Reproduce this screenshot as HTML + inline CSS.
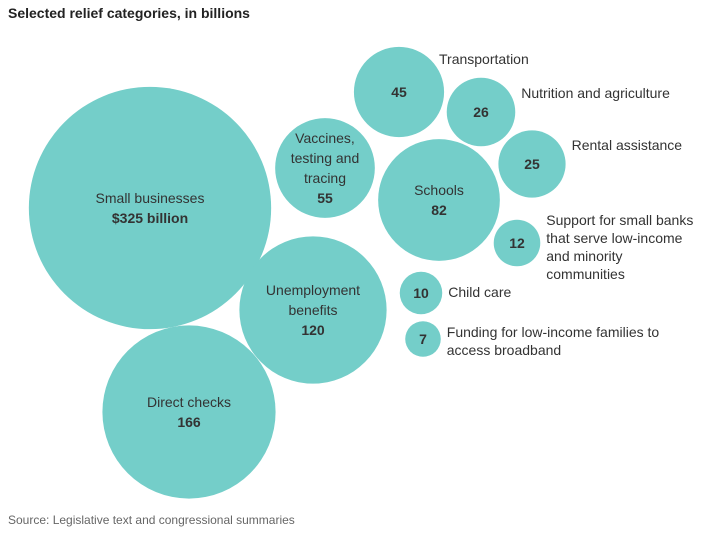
<!DOCTYPE html>
<html><head><meta charset="utf-8">
<style>
html,body{margin:0;padding:0;background:#fff;}
body{width:704px;height:530px;overflow:hidden;font-family:"Liberation Sans",sans-serif;}
svg text{font-family:"Liberation Sans",sans-serif;}
</style></head>
<body>
<svg id="chart" width="704" height="530">
<text x="8" y="18" font-size="14" font-weight="bold" fill="#222">Selected relief categories, in billions</text>
<text x="8" y="524" font-size="12" fill="#666">Source: Legislative text and congressional summaries</text>
<g id="bubbles"></g>
</svg>
<script>
const categories = ["Small businesses","Direct checks","Unemployment benefits","Schools","Vaccines, testing and tracing","Transportation","Nutrition and agriculture","Rental assistance","Support for small banks","Child care","Broadband funding"];
const values = [325,166,120,82,55,45,26,25,12,10,7];
const valueLabels = ["$325 billion","166","120","82","55","45","26","25","12","10","7"];
const insideLabels = [["Small businesses"],["Direct checks"],["Unemployment","benefits"],["Schools"],["Vaccines,","testing and","tracing"],[],[],[],[],[],[]];
const outsideLabels = [[],[],[],[],[],["Transportation"],["Nutrition and agriculture"],["Rental assistance"],["Support for small banks","that serve low-income","and minority","communities"],["Child care"],["Funding for low-income families to","access broadband"]];
// layout (centers of bubbles)
const layout = [[150,208],[189,412],[313,310],[439,200],[325,168],[399,92],[481,112],[532,164],[517,243],[421,293],[423,339]];
const rScale = v => 6.72*Math.sqrt(v);
const g = document.getElementById('bubbles');
const NS = "http://www.w3.org/2000/svg";
function txt(x,y,s,opts){const t=document.createElementNS(NS,'text');t.setAttribute('x',x);t.setAttribute('y',y);t.setAttribute('font-size',opts.size||14);t.setAttribute('fill','#333');if(opts.bold)t.setAttribute('font-weight','bold');if(opts.anchor)t.setAttribute('text-anchor',opts.anchor);t.textContent=s;return t;}
values.forEach((v,i)=>{
  const [cx,cy]=layout[i]; const r=rScale(v);
  const c=document.createElementNS(NS,'circle');
  c.setAttribute('cx',cx);c.setAttribute('cy',cy);c.setAttribute('r',r);c.setAttribute('fill','#74CEC9');
  
  
  g.appendChild(c);
  const lines=insideLabels[i];
  const n=lines.length+1, lh=20;
  let y0=cy-(n-1)*lh/2+5;
  lines.forEach((l,k)=>{const t=txt(cx,y0+k*lh,l,{anchor:'middle'});
    
    
    g.appendChild(t);});
  const vt=txt(cx,y0+lines.length*lh,valueLabels[i],{anchor:'middle',bold:true});
  
  
  g.appendChild(vt);
  const ol=outsideLabels[i];
  if(ol.length){
    let ox=cx+r+6, oy;
    if(i===5){ox=cx+40;oy=cy-28;}
    else if(i===8){oy=cy-18;}
    else if(i===9){oy=cy+4;}
    else if(i===10){oy=cy-2;}
    else oy=cy-14;
    ol.forEach((l,k)=>{const t=txt(ox,oy+k*18,l,{});
      
      
      g.appendChild(t);});
  }
});
</script>
</body></html>
